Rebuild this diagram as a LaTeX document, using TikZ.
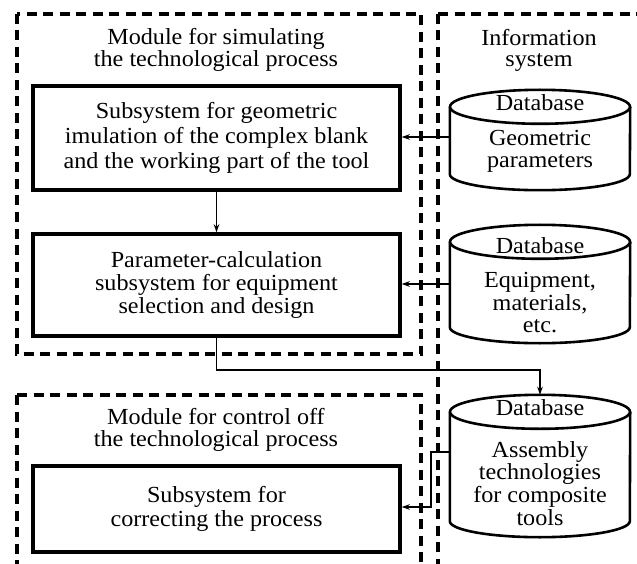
\documentclass[tikz,border=0pt]{standalone}
\usepackage{fontspec}
\setmainfont{Liberation Serif}[FakeStretch=1.05]
\usetikzlibrary{arrows.meta}
\tikzset{
  frame/.style={line width=3.2pt, dash pattern=on 10pt off 6.5pt},
  sysbox/.style={draw, line width=3.4pt, minimum width=367pt, align=center, inner sep=0pt},
  dbbody/.style={minimum width=180pt, inner sep=0pt},
  cylline/.style={line width=2.6pt},
  conn/.style={line width=1.6pt, -{Stealth[length=8pt,width=5.5pt]}},
  txt/.style={align=center, inner sep=0pt},
}
\newcommand\drawdb[1]{%
  \draw[cylline] ([yshift=-17pt]#1.north west) -- ([yshift=16pt]#1.south west)
    arc[start angle=180, end angle=360, x radius=90pt, y radius=16pt]
    -- ([yshift=-17pt]#1.north east);
  \draw[cylline] ([yshift=-17pt]#1.north) ellipse [x radius=90pt, y radius=17pt];
}
\begin{document}
\begin{tikzpicture}[x=1pt,y=-1pt]
\fill[white] (0,0) rectangle (637,564);
\useasboundingbox (0,0) rectangle (637,564);

% dashed frames
\draw[frame] (17,14) rectangle (421,354);
\draw[frame] (17,395) -- (17,572);
\draw[frame] (17,395) -- (421,395) -- (421,572);
\draw[frame] (438,14) -- (438,572);
\draw[frame] (438,14) -- (645,14);

% titles
\node[txt, font=\fontsize{23}{21.4}\selectfont] (t1) at (216,49.7) {Module for simulating\\the technological process};
\node[txt, font=\fontsize{23}{21.4}\selectfont] (t2) at (216,429.7) {Module for control off\\the technological process};
\node[txt, font=\fontsize{23}{21.7}\selectfont] (tinfo) at (539,50.5) {Information\\system};

% subsystem boxes
\node[sysbox, minimum height=104pt, font=\fontsize{23}{25}\selectfont] (b1) at (216.5,138)
  {Subsystem for geometric\\imulation of the complex blank\\and the working part of the tool};
\node[sysbox, minimum height=102pt, font=\fontsize{23}{23}\selectfont] (b2) at (216.5,285)
  {Parameter-calculation\\subsystem for equipment\\selection and design};
\node[sysbox, minimum height=86pt, font=\fontsize{23}{23.3}\selectfont] (b3) at (216.5,509)
  {Subsystem for\\correcting the process};

% databases
\node[dbbody, minimum height=100pt] (db1) at (540,140) {};
\node[dbbody, minimum height=118pt] (db2) at (540,284) {};
\node[dbbody, minimum height=142pt] (db3) at (540,466) {};
\drawdb{db1}
\drawdb{db2}
\drawdb{db3}

\node[txt, anchor=base, font=\fontsize{23}{22}\selectfont] (db1h) at (540,110.7) {Database};
\node[txt, font=\fontsize{23}{22}\selectfont] (db1t) at (540,151.7) {Geometric\\parameters};
\node[txt, anchor=base, font=\fontsize{23}{22}\selectfont] (db2h) at (540,253) {Database};
\node[txt, font=\fontsize{23}{22.5}\selectfont] (db2t) at (540,302.7) {Equipment,\\materials,\\etc.};
\node[txt, anchor=base, font=\fontsize{23}{22}\selectfont] (db3h) at (540,415) {Database};
\node[txt, font=\fontsize{23}{22.7}\selectfont] (db3t) at (540,483.2) {Assembly\\technologies\\for composite\\tools};

% connectors
\draw[conn] ([yshift=3pt]db1.west) -- ([yshift=3pt]db1.west -| b1.east);
\draw[conn] (db2.west) -- (db2.west -| b2.east);
\draw[conn] (b1.south) -- (b2.north);
\draw[conn] (b2.south) -- ++(0,32) -| (db3.north);
\draw[conn] ([yshift=14pt]db3.west) -- ++(-19,0) |- ([yshift=2pt]b3.east);
\end{tikzpicture}
\end{document}
